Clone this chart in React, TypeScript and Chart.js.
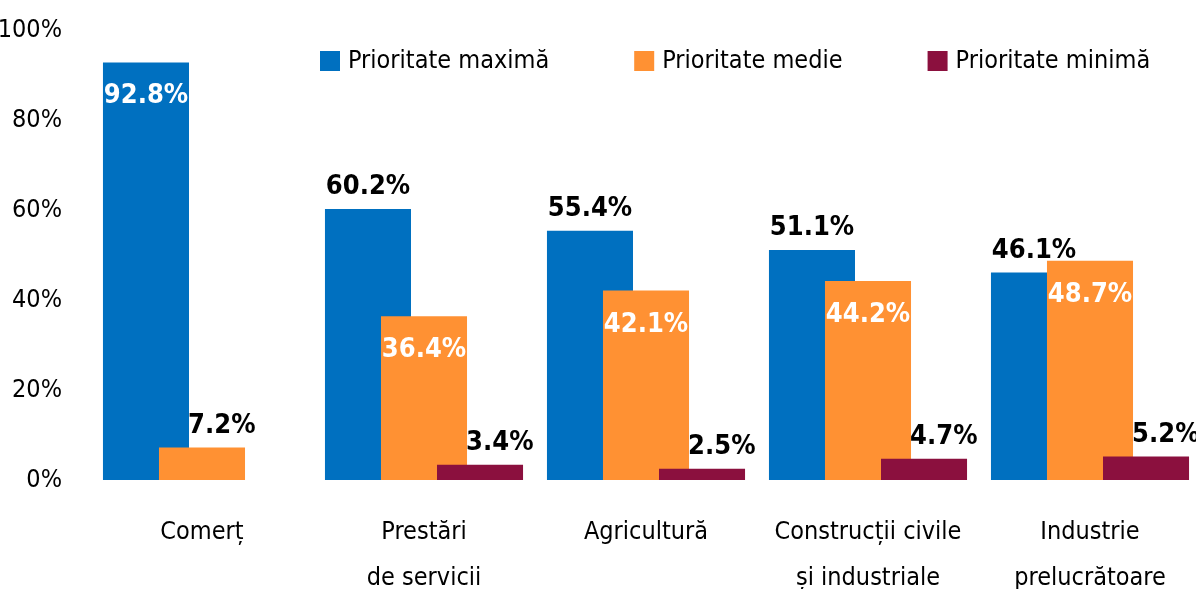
import React, { useEffect, useRef } from "react";
import { Chart, registerables } from "chart.js";

Chart.register(...registerables);

const categories: string[][] = [
  ["Comerț"],
  ["Prestări", "de servicii"],
  ["Agricultură"],
  ["Construcții civile", "și industriale"],
  ["Industrie", "prelucrătoare"],
];

const seriesNames = ["Prioritate maximă", "Prioritate medie", "Prioritate minimă"];
const seriesColors = ["#0070C0", "#FF9133", "#8B103E"];

const maxPriority: (number | null)[] = [92.8, 60.2, 55.4, 51.1, 46.1];
const medPriority: (number | null)[] = [7.2, 36.4, 42.1, 44.2, 48.7];
const minPriority: (number | null)[] = [null, 3.4, 2.5, 4.7, 5.2];

const yMin = 0;
const yMax = 100;
const yStep = 20;

const FONT = '"Liberation Sans Narrow", "DejaVu Sans Condensed", "Roboto Condensed", Roboto, sans-serif';

// draw datasets in index order so later series overlap earlier ones
const drawOrderPlugin = {
  id: "drawOrder",
  beforeDatasetsDraw(chart: any) {
    const metas = chart.getSortedVisibleDatasetMetas().slice().sort((a: any, b: any) => a.index - b.index);
    for (const m of metas) m.controller.draw();
    return false;
  },
};

const labelsPlugin = {
  id: "valueLabels",
  afterDraw(chart: any) {
    const ctx = chart.ctx;
    ctx.save();
    ctx.font = `bold 27px ${FONT}`;
    ctx.textAlign = "center";
    ctx.textBaseline = "middle";
    chart.data.datasets.forEach((ds: any, di: number) => {
      const meta = chart.getDatasetMeta(di);
      meta.data.forEach((bar: any, i: number) => {
        const v = ds.data[i];
        if (v === null || v === undefined) return;
        const inside = (di === 0 && v > 85) || (di === 1 && v > 20);
        const text = v.toFixed(1) + "%";
        if (inside) {
          ctx.fillStyle = "#FFFFFF";
          ctx.fillText(text, bar.x, bar.y + 34);
        } else {
          ctx.fillStyle = "#000000";
          const shift = di > 0 ? bar.width * 0.23 : 0;
          ctx.fillText(text, bar.x + shift, bar.y - 22);
        }
      });
    });
    ctx.restore();
  },
};

const legendPlugin = {
  id: "customLegend",
  afterDraw(chart: any) {
    const ctx = chart.ctx;
    ctx.save();
    ctx.font = `25px ${FONT}`;
    ctx.textBaseline = "middle";
    ctx.textAlign = "left";
    let x = chart.chartArea.left + 118;
    const y = chart.chartArea.top + 31;
    const box = 20;
    seriesNames.forEach((name, i) => {
      ctx.fillStyle = seriesColors[i];
      ctx.fillRect(x, y - box / 2, box, box);
      ctx.fillStyle = "#000000";
      ctx.fillText(name, x + box + 8, y);
      x += box + 8 + ctx.measureText(name).width + 85;
    });
    ctx.restore();
  },
};

export default function App() {
  const canvasRef = useRef<HTMLCanvasElement | null>(null);

  useEffect(() => {
    document.body.style.margin = "0";
    document.body.style.overflow = "hidden";
    const canvas = canvasRef.current;
    if (!canvas) return;
    const chart = new Chart(canvas, {
      type: "bar",
      data: {
        labels: categories,
        datasets: [
          { label: seriesNames[0], data: maxPriority, backgroundColor: seriesColors[0] },
          { label: seriesNames[1], data: medPriority, backgroundColor: seriesColors[1] },
          { label: seriesNames[2], data: minPriority, backgroundColor: seriesColors[2] },
        ],
      },
      options: {
        responsive: false,
        animation: false,
        categoryPercentage: 0.757,
        barPercentage: 1.536,
        layout: { padding: { left: 0, right: 106, top: 30, bottom: 0 } },
        plugins: {
          legend: { display: false },
          tooltip: { enabled: false },
          title: { display: false },
        },
        scales: {
          x: {
            offset: false,
            grid: { display: false, drawTicks: false },
            border: { display: false },
            ticks: {
              font: { family: FONT, size: 25, lineHeight: 1.84 },
              color: "#000000",
              padding: 29,
              maxRotation: 0,
              autoSkip: false,
            },
            afterFit(scale: any) {
              scale.height = 109;
            },
          },
          y: {
            min: yMin,
            max: yMax,
            grid: { display: false, drawTicks: false },
            border: { display: false },
            ticks: {
              stepSize: yStep,
              padding: 140,
              font: { family: FONT, size: 25 },
              color: "#000000",
              callback: (v: any) => v + "%",
            },
            afterFit(scale: any) {
              scale.width = 202;
              scale.paddingTop = 10;
              scale.paddingBottom = 10;
            },
          },
        },
      },
      plugins: [drawOrderPlugin, labelsPlugin, legendPlugin],
    } as any);
    return () => chart.destroy();
  }, []);

  return (
    <div style={{ width: 1196, height: 589 }}>
      <canvas ref={canvasRef} width={1196} height={589} style={{ display: "block" }} />
    </div>
  );
}
